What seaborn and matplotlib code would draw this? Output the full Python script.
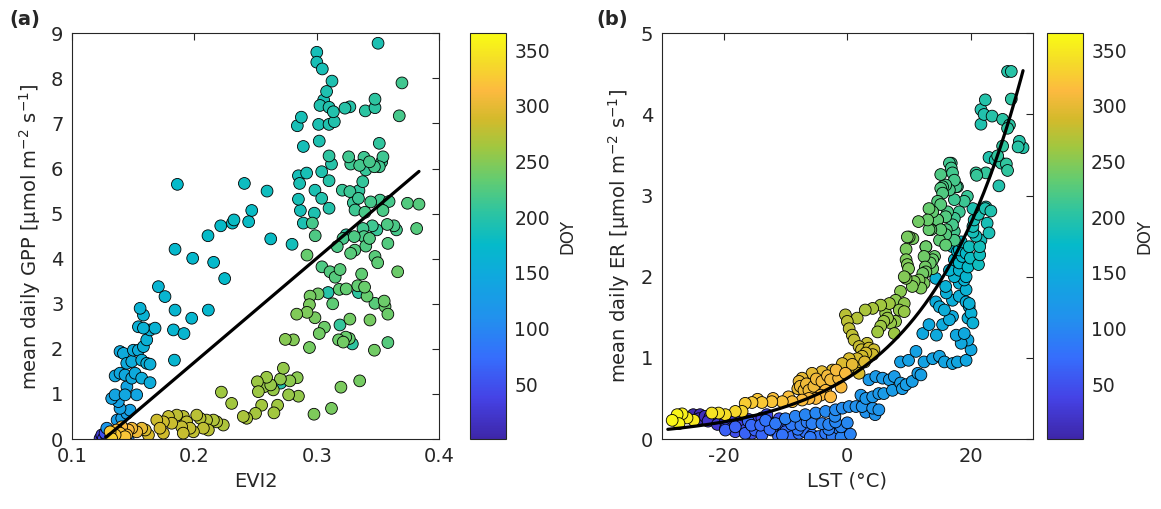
import numpy as np
import pandas as pd
import matplotlib
matplotlib.use('Agg')
import matplotlib.pyplot as plt
import seaborn as sns
from matplotlib.colors import LinearSegmentedColormap, Normalize
from matplotlib.cm import ScalarMappable

# ---------------- Panel (a): EVI2 vs mean daily GPP ----------------
evi2 = [
    # teal top
    0.350, 0.300, 0.300, 0.3045, 0.3124, 0.308, 0.3056, 0.3026, 0.310, 0.3135, 0.323, 0.327, 0.3396, 0.3475, 0.3475,
    0.2874, 0.2841, 0.3015, 0.310, 0.3143, 0.302, 0.289, 0.351, 0.3695, 0.3673,
    # teal / green middle
    0.310, 0.312, 0.326, 0.3277, 0.335, 0.3385, 0.343, 0.347, 0.351, 0.354, 0.353, 0.340, 0.2917, 0.285, 0.286,
    0.304, 0.310, 0.3375, 0.2985, 0.3208, 0.327, 0.3344, 0.334, 0.3298, 0.304, 0.285, 0.344, 0.3516, 0.359, 0.3312,
    0.3393, 0.354, 0.374, 0.3834, 0.2866, 0.298, 0.310, 0.289, 0.2964, 0.2987, 0.3377, 0.3453, 0.349, 0.3575, 0.363,
    0.365, 0.3815, 0.324, 0.3306, 0.3385, 0.343, 0.340, 0.331, 0.3276, 0.3214, 0.3167, 0.358, 0.2624, 0.2798, 0.292,
    0.3475, 0.3497, 0.366,
    # green lower
    0.3042, 0.3108, 0.319, 0.315, 0.3366, 0.3334, 0.339, 0.3184, 0.324, 0.3092, 0.301, 0.2945, 0.334, 0.341, 0.3475,
    0.355, 0.3557, 0.358, 0.313, 0.294, 0.292, 0.2836, 0.2985, 0.327, 0.3434, 0.3189, 0.3062, 0.302, 0.2743, 0.2809,
    0.3178, 0.3236, 0.3265, 0.3216, 0.329, 0.358, 0.294, 0.347, 0.335, 0.3197, 0.2977, 0.312,
    # yellow-green
    0.2727, 0.2703, 0.2705, 0.278, 0.284, 0.285, 0.277, 0.2645, 0.257, 0.259, 0.2515, 0.2523, 0.2624, 0.268, 0.265,
    0.255, 0.250, 0.2428, 0.240, 0.2221, 0.2305,
    # olive-yellow bottom
    0.1694, 0.172, 0.1748, 0.1789, 0.1816, 0.1857, 0.1911, 0.1938, 0.1897, 0.1965, 0.202, 0.2047, 0.2074, 0.210,
    0.2156, 0.2183, 0.2237, 0.2115, 0.191, 0.1748, 0.1626, 0.160, 0.1993,
    # orange near origin
    0.1326, 0.1354, 0.1394, 0.1435, 0.1462, 0.149, 0.153, 0.1571, 0.1408, 0.1367, 0.1313, 0.1449,
    # dark blue near origin
    0.1231, 0.1258, 0.1286, 0.1313, 0.1272, 0.1245, 0.134, 0.138, 0.142, 0.146,
    # light blue branch
    0.1286, 0.1326, 0.1354, 0.1435, 0.153, 0.1394, 0.1408, 0.1476, 0.1354, 0.1394, 0.1435, 0.149, 0.1449, 0.149,
    0.1517, 0.1571, 0.1639, 0.1394, 0.1422, 0.1503, 0.1544, 0.1571, 0.1612, 0.1639, 0.1585, 0.1612, 0.1544, 0.1585,
    0.1639, 0.168, 0.1558, 0.1585, 0.1707, 0.1761, 0.1843, 0.183, 0.1916, 0.1979, 0.2115, 0.1838, 0.145, 0.145,
    0.137, 0.138,
    # cyan upper-left
    0.1862, 0.1843, 0.1987, 0.2112, 0.2158, 0.2216, 0.2248, 0.2311, 0.2324, 0.2444, 0.2469, 0.2409, 0.2594,
]
gpp = [
    8.78, 8.58, 8.36, 8.21, 7.94, 7.71, 7.52, 7.40, 7.36, 7.26, 7.34, 7.37, 7.28, 7.54, 7.35,
    7.14, 6.95, 6.98, 6.98, 7.04, 6.61, 6.49, 6.56, 7.90, 7.17,
    6.28, 6.10, 6.26, 6.10, 6.07, 6.25, 6.15, 6.04, 6.04, 6.26, 6.15, 5.97, 5.90, 5.84, 5.67,
    5.93, 5.73, 5.71, 5.52, 5.52, 5.49, 5.51, 5.34, 5.24, 5.34, 5.32, 5.26, 5.30, 5.27, 5.08,
    5.03, 5.07, 5.23, 5.21, 5.07, 5.01, 5.12, 4.79, 4.79, 4.51, 4.67, 4.73, 4.64, 4.76, 4.73,
    4.64, 4.67, 4.53, 4.49, 4.49, 4.45, 4.28, 4.19, 4.12, 4.45, 4.27, 4.34, 4.44, 4.32, 4.08,
    4.05, 3.91, 3.71,
    3.82, 3.71, 3.76, 3.59, 3.66, 3.40, 3.37, 3.32, 3.33, 3.25, 3.22, 3.17, 3.25, 3.17, 3.01,
    3.06, 2.94, 2.77, 3.00, 2.98, 2.81, 2.77, 2.69, 2.66, 2.64, 2.53, 2.48, 2.34, 2.21, 2.20,
    2.20, 2.26, 2.23, 2.15, 2.11, 2.14, 2.03, 1.97, 1.29, 1.15, 0.55, 0.68,
    1.57, 1.33, 1.24, 1.29, 1.36, 0.95, 0.98, 1.09, 1.16, 1.37, 1.27, 1.05, 1.20, 0.75, 0.58,
    0.75, 0.57, 0.46, 0.50, 1.04, 0.79,
    0.42, 0.24, 0.38, 0.50, 0.35, 0.53, 0.50, 0.38, 0.27, 0.24, 0.53, 0.46, 0.24, 0.42,
    0.42, 0.38, 0.31, 0.20, 0.13, 0.13, 0.09, 0.20, 0.16,
    0.01, 0.09, 0.13, 0.05, 0.20, 0.24, 0.16, 0.24, 0.27, 0.20, 0.16, 0.09,
    0.01, 0.01, 0.05, 0.01, 0.13, 0.09, 0.0, 0.0, 0.0, 0.0,
    0.24, 0.90, 0.98, 0.98, 0.98, 0.68, 0.46, 0.64, 1.40, 1.46, 1.42, 1.35, 1.68, 1.72,
    1.46, 1.35, 1.25, 1.94, 1.90, 1.97, 1.97, 1.75, 1.68, 1.66, 2.05, 2.20, 2.49, 2.46,
    2.42, 2.46, 2.90, 2.75, 3.38, 3.16, 2.86, 2.42, 2.34, 2.68, 2.86, 1.75, 1.16, 0.57,
    0.42, 0.83,
    5.65, 4.21, 4.01, 4.51, 3.92, 4.73, 3.56, 4.79, 4.86, 4.82, 5.07, 5.67, 5.50,
]
doy_a = [
    192, 188, 189, 190, 193, 194, 191, 195, 196, 197, 200, 199, 203, 205, 204,
    190, 189, 192, 195, 196, 193, 188, 206, 215, 218,
    205, 200, 215, 213, 217, 214, 218, 216, 215, 214, 212, 210, 190, 188, 191,
    195, 200, 208, 192, 210, 212, 207, 212, 211, 196, 190, 218, 216, 218, 214,
    219, 220, 225, 226, 188, 193, 198, 192, 218, 222, 215, 214, 210, 222, 220,
    218, 226, 205, 222, 220, 224, 223, 226, 228, 218, 220, 225, 180, 186, 235,
    228, 230, 238,
    222, 225, 228, 226, 232, 234, 236, 232, 234, 200, 240, 242, 205, 235, 228,
    238, 236, 238, 230, 245, 246, 248, 244, 240, 242, 208, 238, 240, 250, 249,
    238, 236, 235, 240, 205, 226, 242, 240, 242, 245, 246, 244,
    256, 255, 200, 254, 252, 256, 258, 257, 258, 259, 260, 260, 258, 262, 263,
    264, 265, 266, 267, 262, 264,
    285, 288, 284, 280, 283, 278, 276, 279, 281, 280, 274, 273, 277, 272,
    271, 270, 269, 275, 282, 286, 290, 292, 279,
    330, 325, 320, 322, 312, 308, 305, 300, 315, 318, 326, 318,
    20, 35, 45, 60, 50, 30, 70, 80, 90, 95,
    120, 138, 140, 142, 141, 135, 132, 134, 145, 146, 147, 148, 150, 151,
    149, 152, 153, 148, 149, 152, 153, 155, 156, 157, 158, 159, 160, 161,
    160, 162, 163, 162, 165, 166, 168, 167, 168, 170, 171, 168, 140, 132,
    128, 136,
    175, 172, 173, 176, 174, 177, 175, 178, 179, 180, 179, 182, 183,
]
# linear fit (GPP = slope * EVI2 + intercept)
gpp_fit_slope = 23.1
gpp_fit_intercept = -2.92

# ---------------- Panel (b): LST vs mean daily ER ----------------
lst = [
    # teal top
    25.9, 26.5, 22.3, 26.5, 21.6, 22.1, 23.4, 21.6, 25.1, 26.2, 25.9, 25.1, 27.8, 27.6, 28.4, 24.3, 22.9, 23.9,
    25.7, 24.9, 25.9, 22.4, 20.9, 24.5, 22.3, 23.2, 20.3, 21.2, 22.6, 22.9, 19.4, 18.9, 20.5, 20.3, 20.8, 21.6,
    19.7, 21.4, 21.2, 19.9, 20.8, 22.4, 20.3, 21.4, 18.1, 19.2, 19.7, 16.0,
    # green
    16.8, 16.8, 17.0, 15.1, 17.3, 15.9, 15.1, 17.8, 16.5, 15.4, 14.6, 17.3, 13.2, 15.1, 13.8, 16.2, 18.1, 14.6,
    13.0, 11.5, 15.9, 17.3, 13.5, 15.1, 17.0, 17.3, 15.9, 14.9, 17.3, 15.9, 10.0, 10.6, 12.7, 9.5, 12.4, 14.1,
    9.5, 9.7, 9.9, 12.6, 13.8, 13.4, 12.7, 9.5, 10.8, 11.6, 10.5, 11.9, 12.4,
    16.5, 15.4, 17.6, 14.6, 13.2, 16.0, 12.7, 13.8, 9.7, 9.2, 12.2,
    # yellow-green
    8.6, 7.8, 9.2, 8.4, 9.2, 6.8, 5.4, 4.1, 2.9, 1.6, -0.3, 0.0, 0.3, 0.8, 1.1, 6.2, 6.5, 5.9, 5.4, 4.9, 7.0,
    7.8, 7.6,
    # orange
    1.9, 2.3, 3.2, 3.5, 4.3, 4.1, 3.0, 2.4, 1.6, 0.3, 1.5, 1.9, -0.8, -2.4, -4.1, -5.7, -7.3, -7.8, -7.6, -7.0,
    -6.2, -5.4, -4.1, -2.7, -1.4, -0.3, -3.5, -4.3, -2.7, -5.1, -6.2, -7.3, -8.9, -10.5, -12.2, -13.8, -15.4,
    -16.5, -8.0, -6.6, -5.0, -3.2, -1.8, 0.8, 2.8, -12.0, -14.5, -9.5, -1.0,
    # yellow (late year)
    -28.3, -27.5, -26.7, -27.2, -25.9, -24.8, -21.9, -20.8, -19.7, -18.1, -17.0,
    # dark blue (early year)
    -24.9, -23.8, -23.0, -22.2, -21.3, -20.5, -19.7, -18.9, -18.1, -17.0, -15.9, -14.9, -13.8, -12.7, -19.7,
    -18.1, -16.5, -15.4, -14.3, -12.7, -11.6, -10.5, -9.5, -22.5, -21.0, -17.5, -13.0, -11.0, -24.0,
    # blue
    -14.9, -13.8, -12.2, -11.1, -10.0, -8.9, -7.8, -6.8, -5.7, -4.6, -3.5, -2.4, -1.4, -0.3, -10.0, -8.4, -6.8,
    -5.1, -3.5, -1.9, -0.8, 0.3, 1.4, 2.4, 4.1, 5.1, -11.6, -13.2, -4.1, -1.9, -5.7, -18.1, -16.5, -19.7,
    -9.0, -7.5, -6.5, -3.0, -1.0, 0.0, -8.0, -3.0, -15.5, -14.0, -12.5, -16.0, -10.5, -6.0, -1.0, 0.5, -2.0,
    3.0, 4.5,
    # light blue
    2.2, 3.0, 4.1, 5.1, 3.5, 4.6, 5.7, 6.8, 7.6, 8.6, 9.5, 10.5, 11.4, 11.9, 8.9, 7.3, 5.9, 8.6, 9.9, 11.1,
    12.4, 13.8, 14.9, 15.7, 17.0, 17.8, 19.2, 20.0, 19.5, 18.4, 17.6, 18.9, 12.2, 13.2, 14.4, 15.4, 17.0, 16.5,
    14.3, 14.9, 15.7, 17.0, 18.1, 19.2, 19.7, 20.0, 20.3, 19.5, 14.3, 15.9, 18.1, 19.2, 18.9, 17.3, 16.5, 18.1,
    # cyan
    17.0, 17.8, 18.6, 17.3, 19.5, 18.1, 18.4, 19.2,
]
er = [
    4.53, 4.53, 4.18, 4.19, 4.06, 4.00, 3.98, 3.88, 3.94, 3.87, 3.83, 3.61, 3.67, 3.60, 3.59, 3.49, 3.47, 3.44,
    3.39, 3.40, 3.31, 3.28, 3.25, 3.12, 2.84, 2.81, 2.84, 2.77, 2.66, 2.54, 2.99, 2.93, 2.70, 2.55, 2.50, 2.45,
    2.37, 2.27, 2.15, 2.23, 3.28, 2.86, 2.62, 2.37, 2.33, 2.00, 1.67, 1.80,
    3.40, 3.34, 3.28, 3.26, 3.19, 3.13, 3.09, 3.11, 3.07, 3.03, 2.93, 2.95, 2.84, 2.89, 2.80, 2.80, 2.80, 2.70,
    2.70, 2.68, 2.74, 2.72, 2.58, 2.58, 2.64, 2.56, 2.52, 2.45, 2.45, 2.39, 2.49, 2.47, 2.37, 2.34, 2.25, 2.25,
    2.21, 2.15, 2.10, 2.12, 2.10, 2.17, 2.06, 1.98, 1.94, 1.96, 1.88, 1.86, 1.92,
    3.40, 3.11, 3.11, 2.70, 2.58, 2.58, 2.37, 2.21, 2.49, 2.00, 2.04,
    1.82, 1.71, 1.67, 1.59, 1.57, 1.67, 1.65, 1.61, 1.59, 1.49, 1.53, 1.45, 1.36, 1.28, 1.22, 1.55, 1.49, 1.45,
    1.39, 1.32, 1.43, 1.45, 1.30,
    1.14, 1.10, 1.18, 1.12, 1.10, 1.04, 1.06, 1.02, 0.99, 0.99, 0.87, 0.81, 0.93, 0.85, 0.83, 0.81, 0.75, 0.71,
    0.65, 0.60, 0.60, 0.65, 0.71, 0.73, 0.75, 0.81, 0.60, 0.54, 0.52, 0.50, 0.50, 0.48, 0.46, 0.46, 0.46, 0.45,
    0.45, 0.44, 0.62, 0.68, 0.74, 0.78, 0.85, 0.92, 0.95, 0.50, 0.49, 0.52, 0.64,
    0.23, 0.30, 0.31, 0.19, 0.26, 0.23, 0.32, 0.32, 0.30, 0.34, 0.34,
    0.30, 0.30, 0.28, 0.27, 0.26, 0.21, 0.21, 0.19, 0.23, 0.26, 0.24, 0.23, 0.26, 0.21, 0.13, 0.09, 0.11, 0.07,
    0.11, 0.15, 0.11, 0.17, 0.15, 0.22, 0.18, 0.16, 0.30, 0.25, 0.25,
    0.11, 0.05, 0.11, 0.03, 0.09, 0.03, 0.07, 0.09, 0.05, 0.03, 0.07, 0.03, 0.13, 0.07, 0.25, 0.28, 0.30, 0.32,
    0.34, 0.36, 0.38, 0.40, 0.40, 0.40, 0.38, 0.36, 0.19, 0.23, 0.19, 0.21, 0.19, 0.15, 0.07, 0.11,
    0.18, 0.17, 0.21, 0.18, 0.15, 0.20, 0.12, 0.12, 0.17, 0.17, 0.12, 0.22, 0.05, 0.02, 0.02, 0.06, 0.28,
    0.33, 0.30,
    0.54, 0.50, 0.52, 0.56, 0.73, 0.77, 0.75, 0.73, 0.77, 0.69, 0.67, 0.71, 0.81, 0.79, 0.62, 0.60, 0.56, 0.95,
    0.97, 1.08, 0.95, 0.99, 1.02, 0.95, 0.93, 0.95, 0.97, 1.10, 1.22, 1.18, 1.28, 1.30, 1.30, 1.41, 1.28, 1.41,
    1.51, 1.47, 1.69, 1.63, 1.59, 1.71, 1.76, 1.69, 1.63, 1.55, 1.43, 1.49, 1.98, 1.88, 1.92, 1.84, 1.96, 2.00,
    2.08, 2.08,
    2.37, 2.31, 2.25, 2.21, 2.12, 2.17, 2.43, 2.29,
]
doy_b = [
    200, 201, 198, 203, 196, 197, 199, 195, 202, 204, 205, 206, 200, 201, 199, 207, 197, 198,
    206, 205, 207, 208, 210, 196, 194, 195, 193, 192, 190, 191, 211, 212, 190, 188, 187, 186,
    185, 184, 183, 182, 209, 193, 189, 186, 175, 168, 160, 158,
    215, 216, 217, 222, 218, 220, 223, 214, 219, 224, 226, 213, 235, 228, 233, 221, 212, 229,
    236, 240, 225, 214, 234, 231, 218, 217, 227, 230, 220, 232, 244, 243, 238, 245, 239, 236,
    246, 247, 248, 240, 237, 238, 241, 249, 247, 246, 248, 246, 245,
    215, 221, 216, 230, 235, 225, 238, 237, 244, 249, 241,
    252, 254, 255, 256, 257, 262, 264, 266, 268, 272, 275, 276, 277, 278, 279, 258, 259, 260,
    261, 262, 258, 256, 260,
    282, 283, 281, 284, 285, 286, 287, 288, 289, 290, 291, 292, 293, 295, 297, 299, 301, 302,
    303, 304, 305, 306, 307, 308, 309, 310, 311, 312, 313, 314, 315, 316, 318, 320, 322, 324,
    326, 328, 302, 304, 306, 307, 309, 300, 295, 319, 323, 317, 311,
    362, 358, 355, 360, 352, 350, 345, 343, 340, 336, 333,
    5, 8, 12, 15, 18, 22, 25, 28, 30, 33, 36, 38, 40, 42, 45, 48, 50, 52,
    54, 56, 58, 60, 62, 20, 24, 34, 44, 50, 10,
    66, 68, 70, 72, 74, 76, 78, 80, 82, 84, 86, 88, 90, 92, 94, 96, 98, 100,
    102, 104, 106, 108, 110, 112, 114, 116, 85, 80, 95, 100, 92, 64, 65, 63,
    85, 88, 90, 97, 99, 101, 84, 93, 70, 72, 75, 68, 78, 86, 95, 96, 103,
    111, 113,
    118, 119, 120, 121, 122, 123, 124, 125, 126, 127, 128, 129, 130, 131, 127, 126, 125, 133,
    134, 135, 136, 137, 138, 139, 140, 141, 142, 143, 144, 145, 146, 147, 146, 147, 148, 149,
    150, 151, 152, 153, 154, 155, 156, 157, 158, 159, 160, 158, 160, 161, 162, 163, 164, 165,
    166, 167,
    170, 172, 174, 171, 176, 173, 178, 177,
]
# exponential fit (ER = a * exp(b * LST))
er_fit_a = 0.75
er_fit_b = 0.0634

doy_ticks = [50, 100, 150, 200, 250, 300, 350]

# ---------------- style ----------------
sns.set_style('white')
plt.rcParams['font.family'] = ['DejaVu Sans']
plt.rcParams['mathtext.default'] = 'regular'
plt.rcParams['axes.unicode_minus'] = False

parula_like = [
    (0.00, (0.2422, 0.1504, 0.6603)),
    (0.10, (0.2700, 0.2600, 0.9000)),
    (0.20, (0.2100, 0.4300, 0.9900)),
    (0.30, (0.1300, 0.5700, 0.9300)),
    (0.40, (0.0600, 0.6600, 0.8700)),
    (0.48, (0.0200, 0.7300, 0.7900)),
    (0.56, (0.1800, 0.7700, 0.6300)),
    (0.64, (0.3900, 0.8000, 0.4400)),
    (0.72, (0.6300, 0.7800, 0.2500)),
    (0.79, (0.8300, 0.7300, 0.1700)),
    (0.86, (0.9900, 0.7300, 0.2500)),
    (0.93, (0.9600, 0.8600, 0.1600)),
    (1.00, (0.9769, 0.9839, 0.0805)),
]
cmap = LinearSegmentedColormap.from_list('parula_like', parula_like)
norm = Normalize(1, 365)
dark = '0.15'

fig = plt.figure(figsize=(11.61, 5.09), dpi=100)
axA = fig.add_axes([0.0618, 0.1375, 0.3166, 0.797])
caxA = fig.add_axes([0.4048, 0.1375, 0.031, 0.797])
axB = fig.add_axes([0.5699, 0.1375, 0.3198, 0.797])
caxB = fig.add_axes([0.9021, 0.1375, 0.0305, 0.797])

dfA = pd.DataFrame({'EVI2': evi2, 'GPP': gpp, 'DOY': doy_a}).sort_values('DOY', kind='stable')
dfB = pd.DataFrame({'LST': lst, 'ER': er, 'DOY': doy_b}).sort_values('DOY', kind='stable')

sns.scatterplot(data=dfA, x='EVI2', y='GPP', hue='DOY', palette=cmap, hue_norm=norm,
                s=72, edgecolor='black', linewidth=0.6, legend=False, ax=axA, zorder=2)
sns.scatterplot(data=dfB, x='LST', y='ER', hue='DOY', palette=cmap, hue_norm=norm,
                s=72, edgecolor='black', linewidth=0.6, legend=False, ax=axB, zorder=2)

# fit lines
xa = np.linspace(min(evi2) + 0.005, max(evi2), 50)
sns.lineplot(x=xa, y=gpp_fit_slope * xa + gpp_fit_intercept, color='black', lw=2.3, ax=axA, zorder=3)
xb = np.linspace(min(lst) - 0.7, max(lst), 200)
sns.lineplot(x=xb, y=er_fit_a * np.exp(er_fit_b * xb), color='black', lw=2.3, ax=axB, zorder=3)

axA.set_xlim(0.1, 0.4)
axA.set_ylim(0, 9)
axA.set_xticks([0.1, 0.2, 0.3, 0.4])
axA.set_yticks(range(0, 10))
axA.set_xlabel('EVI2', fontsize=14, color=dark)
axA.set_ylabel(r'mean daily GPP [μmol m$^{-2}$ s$^{-1}$]', fontsize=14, color=dark, labelpad=6)

axB.set_xlim(-30, 30)
axB.set_ylim(0, 5)
axB.set_xticks([-20, 0, 20])
axB.set_yticks(range(0, 6))
axB.set_xlabel('LST (°C)', fontsize=14, color=dark)
axB.set_ylabel(r'mean daily ER [μmol m$^{-2}$ s$^{-1}$]', fontsize=14, color=dark, labelpad=6)

for ax in (axA, axB):
    for sp in ax.spines.values():
        sp.set_color(dark)
        sp.set_linewidth(0.8)
        sp.set_visible(True)
    ax.tick_params(direction='in', length=5, width=0.8, top=True, right=True,
                   labelsize=14, colors=dark, pad=6)

for cax in (caxA, caxB):
    cb = fig.colorbar(ScalarMappable(norm=norm, cmap=cmap), cax=cax)
    cb.set_ticks(doy_ticks)
    cb.ax.tick_params(direction='in', length=4, width=0.8, labelsize=13.5, colors=dark, pad=6)
    cb.outline.set_edgecolor(dark)
    cb.outline.set_linewidth(0.8)
    cb.set_label('DOY', fontsize=12, color=dark, labelpad=6)

fig.text(0.008, 0.962, '(a)', fontsize=14, fontweight='bold', va='center', ha='left')
fig.text(0.514, 0.962, '(b)', fontsize=14, fontweight='bold', va='center', ha='left')

fig.savefig('out.png', dpi=100)
